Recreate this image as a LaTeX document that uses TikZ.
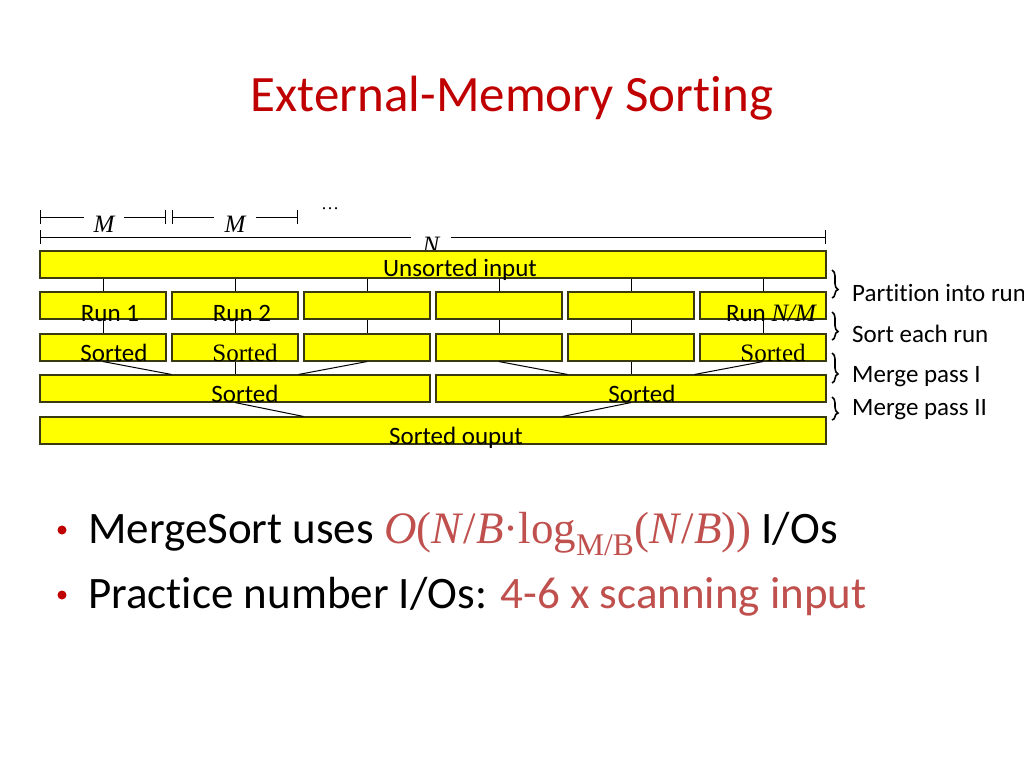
\documentclass[tikz,border=0pt]{standalone}
\usepackage{fontspec}
\setmainfont{Carlito}[RawFeature=-liga]
\newfontfamily\timesfont{Liberation Serif}
\usetikzlibrary{arrows.meta,positioning,decorations.pathreplacing}
\definecolor{titlecolor}{HTML}{C00000}
\definecolor{mathcolor}{HTML}{C0504D}
\definecolor{boxcolor}{HTML}{FFFF00}
\definecolor{edgecolor}{HTML}{3A3A10}

\tikzset{
  block/.style={draw=edgecolor,fill=boxcolor,line width=1.1pt,minimum height=27pt,inner sep=0pt},
  blocklabel/.style={anchor=base,inner sep=0pt,font=\fontsize{25}{25}\selectfont},
  steplabel/.style={anchor=west,inner sep=0pt,font=\fontsize{25}{25}\selectfont},
  dimlabel/.style={inner ysep=0pt,font=\timesfont\itshape\fontsize{25}{25}\selectfont},
  link/.style={line width=1pt},
  stepbrace/.style={decorate,decoration={brace,amplitude=6pt,aspect=0.7},line width=1.6pt},
  bulletdot/.style={circle,fill=titlecolor,inner sep=0pt,minimum size=9pt},
  bullettext/.style={anchor=base west,inner sep=0pt,font=\fontsize{45}{45}\selectfont}
}

\begin{document}
\begin{tikzpicture}[x=1pt,y=-1pt]
  \useasboundingbox[fill=white] (0,0) rectangle (1024,768);
  \node[font=\fontsize{51}{51}\selectfont,text=titlecolor] (title) at (512,98) {External-Memory Sorting};

  % rulers for M and N
  \coordinate (m0a) at (40,217);
  \coordinate (m0b) at (166,217);
  \coordinate (m1a) at (172,217);
  \coordinate (m1b) at (298,217);
  \coordinate (na) at (40,237);
  \coordinate (nb) at (826,237);
  \node[dimlabel,inner xsep=9pt] (mlab0) at (104,224) {M};
  \node[dimlabel,inner xsep=10pt] (mlab1) at (235,224) {M};
  \node[dimlabel,inner xsep=11pt] (nlab) at (431,245) {N};
  \node[font=\timesfont\fontsize{18}{18}\selectfont,inner sep=0pt] (dots) at (330,209) {\dots};
  \draw[link,{Bar[width=14pt]}-] (m0a) -- (m0a -| mlab0.west);
  \draw[link,-{Bar[width=14pt]}] (mlab0.east |- m0b) -- (m0b);
  \draw[link,{Bar[width=14pt]}-] (m1a) -- (m1a -| mlab1.west);
  \draw[link,-{Bar[width=14pt]}] (mlab1.east |- m1b) -- (m1b);
  \draw[link,{Bar[width=14pt]}-] (na) -- (na -| nlab.west);
  \draw[link,-{Bar[width=14pt]}] (nlab.east |- nb) -- (nb);

  % input, runs, sorted runs
  \node[block,minimum width=786pt] (inp) at (433,264.5) {};
  \foreach \i in {0,...,5} {
    \node[block,minimum width=126pt] (r\i) at (103+132*\i,305.5) {};
    \node[block,minimum width=126pt] (s\i) at (103+132*\i,347.5) {};
    \draw[link] (inp.south -| r\i.north) -- (r\i.north);
    \draw[link] (r\i.south) -- (s\i.north);
  }

  % merge passes
  \node[block,minimum width=390pt] (m0) at (235,388.5) {};
  \node[block,minimum width=390pt] (m1) at (631,388.5) {};
  \node[block,minimum width=786pt] (out) at (433,430.5) {};
  \draw[link] (s0.south) -- (m0.north -| s1.west);
  \draw[link] (s1.south) -- (m0.north);
  \draw[link] (s2.south) -- (m0.north -| s1.east);
  \draw[link] (s3.south) -- (m1.north -| s4.west);
  \draw[link] (s4.south) -- (m1.north);
  \draw[link] (s5.south) -- (m1.north -| s4.east);
  \draw[link] (m0.south) -- (out.north -| s2.west);
  \draw[link] (m1.south) -- (out.north -| s3.east);

  % texts on the blocks
  \node[blocklabel] (inplbl) at ([xshift=27pt,yshift=2pt]inp.south) {Unsorted input};
  \node[blocklabel] (r0lbl) at ([xshift=7pt,yshift=-2pt]r0.south) {Run 1};
  \node[blocklabel] (r1lbl) at ([xshift=7pt,yshift=-2pt]r1.south) {Run 2};
  \node[blocklabel] (r5lbl) at ([xshift=8pt,yshift=-2pt]r5.south) {Run {\timesfont\itshape N/M}};
  \node[blocklabel] (s0lbl) at ([xshift=11pt]s0.south) {Sorted};
  \node[blocklabel,font=\timesfont\fontsize{25}{25}\selectfont] (s1lbl) at ([xshift=10pt]s1.south) {Sorted};
  \node[blocklabel,font=\timesfont\fontsize{25}{25}\selectfont] (s5lbl) at ([xshift=10pt]s5.south) {Sorted};
  \node[blocklabel] (m0lbl) at ([xshift=10pt]m0.south) {Sorted};
  \node[blocklabel] (m1lbl) at ([xshift=11pt]m1.south) {Sorted};
  \node[blocklabel] (outlbl) at ([xshift=23pt]out.south) {Sorted ouput};

  % steps on the right
  \draw[stepbrace] (832,270) -- (832,298);
  \draw[stepbrace] (832,312) -- (832,340);
  \draw[stepbrace] (832,353) -- (832,383);
  \draw[stepbrace] (832,397) -- (832,420);
  \node[steplabel] (st1) at (852,293) {Partition into runs};
  \node[steplabel] (st2) at (852,334) {Sort each run};
  \node[steplabel] (st3) at (852,377) {Merge pass I};
  \node[steplabel] (st4) at (852,410) {Merge pass II};

  % bullets
  \node[bulletdot] (b1) at (62,530) {};
  \node[bulletdot] (b2) at (62,595) {};
  \node[bullettext] (t1) at (88,543) {MergeSort uses {\timesfont\color{mathcolor}\textit{O}(\textit{N}/\textit{B}·log\textsubscript{M/B}(\textit{N}/\textit{B}))} I/Os};
  \node[bullettext] (t2) at (88,608) {Practice number I/Os: {\color{mathcolor}4-6 x scanning input}};
\end{tikzpicture}
\end{document}
